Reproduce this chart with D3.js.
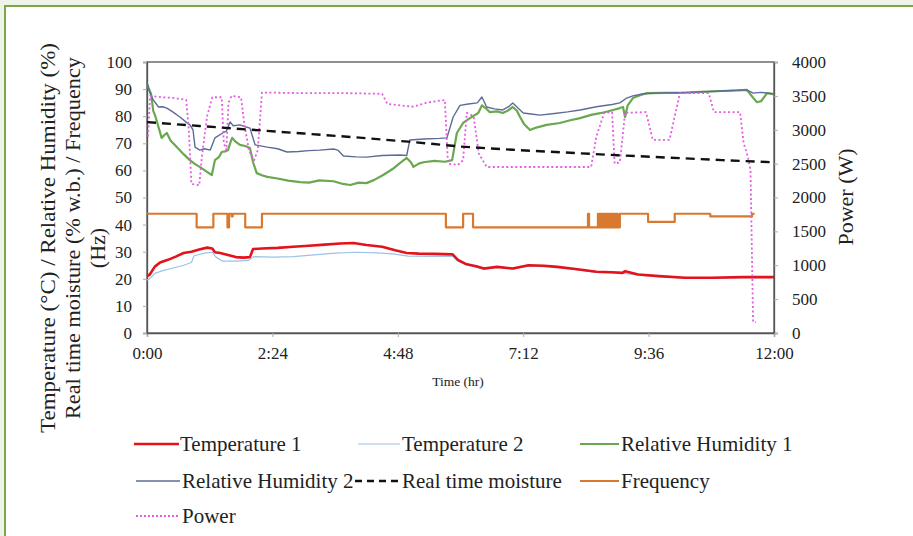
<!DOCTYPE html>
<html><head><meta charset="utf-8">
<script src="https://cdn.jsdelivr.net/npm/d3@7"></script>
<style>body{margin:0;background:#eef4e8;overflow:hidden}</style>
</head><body><svg id="c" width="913" height="536"></svg>
<script>
// ---- data (time in hours, value) ----
const xTickValues = [0, 2.4, 4.8, 7.2, 9.6, 12];
const xTickLabels = ["0:00", "2:24", "4:48", "7:12", "9:36", "12:00"];
const leftTicks = [0,10,20,30,40,50,60,70,80,90,100];
const rightTicks = [0,500,1000,1500,2000,2500,3000,3500,4000];

const temperature1 = [[0,21],[0.05,21.5],[0.15,24.5],[0.25,26],[0.4,27],[0.55,28.2],[0.7,29.5],[0.85,30],[1.0,30.8],[1.15,31.5],[1.25,31.2],[1.3,29.8],[1.4,29.5],[1.55,28.8],[1.7,28],[1.85,27.8],[1.97,28],[2.03,31],[2.2,31.2],[2.5,31.4],[2.8,31.8],[3.1,32.2],[3.4,32.6],[3.7,33],[3.95,33.2],[4.2,32.5],[4.5,31.8],[4.75,30.5],[4.97,29.5],[5.2,29.3],[5.5,29.2],[5.85,29],[5.95,27],[6.1,25.5],[6.3,24.6],[6.45,23.8],[6.7,24.4],[7.0,23.8],[7.3,25],[7.6,24.8],[7.85,24.4],[8.2,23.6],[8.6,22.6],[8.9,22.4],[9.1,22.2],[9.15,22.8],[9.4,21.6],[9.8,21],[10.3,20.4],[10.8,20.4],[11.4,20.6],[12,20.6]];
const temperature2 = [[0,19.5],[0.05,20],[0.15,22],[0.3,23],[0.5,24],[0.7,25],[0.85,26],[0.9,28.5],[1.1,29.5],[1.25,29.8],[1.32,28],[1.45,26.5],[1.7,26.5],[1.95,26.8],[2.05,28.2],[2.4,28],[2.8,28.2],[3.2,28.8],[3.6,29.5],[4.0,29.8],[4.4,29.6],[4.7,29.2],[5.0,28.4],[5.4,28.3],[5.85,28.3],[5.95,26.5],[6.1,25.2],[6.3,24.3],[6.45,23.5],[6.7,24.2],[7.0,23.6],[7.3,24.7],[7.6,24.5],[7.85,24.2],[8.2,23.4],[8.6,22.4],[8.9,22.2],[9.1,22],[9.4,21.4],[9.8,20.8],[10.3,20.2],[10.8,20.3],[11.4,20.4],[12,20.5]];
const relHumidity1 = [[0,92],[0.04,90],[0.08,88],[0.12,82],[0.16,80],[0.22,76],[0.28,72],[0.33,73],[0.38,73.8],[0.45,71],[0.57,68.6],[0.7,66],[0.82,63.8],[0.92,62.3],[1.01,61.3],[1.12,59.8],[1.24,58.3],[1.3,63.8],[1.38,65],[1.43,66.8],[1.5,67],[1.55,67.5],[1.6,70.5],[1.63,72],[1.7,70.5],[1.78,69.4],[1.88,69],[1.97,68.3],[2.03,63],[2.1,59],[2.2,58.2],[2.3,57.6],[2.5,57],[2.7,56.2],[2.93,55.7],[3.1,55.5],[3.3,56.3],[3.57,56],[3.75,55],[3.89,54.6],[4.05,55.5],[4.2,55.3],[4.35,56.5],[4.52,58.3],[4.7,60.5],[4.84,62.7],[4.97,64.6],[5.05,63],[5.1,61.3],[5.2,62.5],[5.29,63],[5.5,63.5],[5.7,63.2],[5.84,63.8],[5.93,73.8],[6.05,77.5],[6.18,79.3],[6.34,81.2],[6.41,84],[6.48,83],[6.56,81.5],[6.7,81.8],[6.81,81.2],[6.9,82],[7.0,83.4],[7.08,82],[7.14,79.7],[7.22,77],[7.33,74.9],[7.45,75.8],[7.65,76.8],[7.9,77.5],[8.1,78.5],[8.29,79.3],[8.5,80.5],[8.7,81.2],[8.92,82.3],[9.05,83],[9.11,83.4],[9.15,79.7],[9.2,84],[9.3,86.7],[9.45,87.8],[9.57,88.5],[9.9,88.6],[10.2,88.6],[10.6,89],[11.0,89.3],[11.3,89.5],[11.48,89.7],[11.55,88],[11.67,85.2],[11.75,85.5],[11.87,88.5],[12,88]];
const relHumidity2 = [[0,92.6],[0.03,90],[0.06,88.5],[0.12,86],[0.22,83.4],[0.3,83.5],[0.38,83],[0.5,81.5],[0.63,79.7],[0.75,77.8],[0.82,76.8],[0.88,75],[0.92,68.6],[1.01,67.5],[1.1,68],[1.21,67.5],[1.3,72],[1.45,73.8],[1.52,74.5],[1.59,77.9],[1.65,76.5],[1.78,76.8],[1.9,76],[1.97,75.6],[2.07,69.4],[2.3,68.6],[2.5,68],[2.68,66.8],[2.9,67],[3.1,67.3],[3.3,67.5],[3.57,67.9],[3.65,67.5],[3.76,65.3],[4.0,65],[4.2,64.9],[4.5,65.5],[4.84,65.7],[4.97,65.5],[5.03,71.2],[5.3,71.6],[5.6,71.8],[5.74,72],[5.86,79.7],[5.99,84],[6.15,84.5],[6.32,84.9],[6.41,87.1],[6.5,83.4],[6.65,82.7],[6.81,82.3],[6.92,83.5],[7.0,84.9],[7.1,83],[7.2,81.2],[7.35,80.8],[7.52,80.4],[7.8,81],[8.05,81.6],[8.29,82.3],[8.6,83.5],[8.9,84.3],[9.05,84.9],[9.18,86.7],[9.3,87.5],[9.5,88.3],[9.9,88.6],[10.4,88.8],[11.0,89.3],[11.48,89.7],[11.6,88.5],[11.75,88.8],[12,88.3]];
const moisture = [[0,77.8],[1,76.4],[2,75],[3,73.6],[4,72.2],[5,70.6],[6,68.8],[7,67.6],[8,66.6],[9,65.6],[10,64.7],[11,63.8],[12,63]];
const frequency = [[0,44],[0.95,39],[1.27,44],[1.54,39],[1.57,44],[1.62,43],[1.64,44],[1.88,39],[2.2,44],[5.72,39],[6.05,44],[6.24,39],[8.44,44],[8.46,39],[8.63,44],[8.65,39],[8.67,44],[8.69,39],[8.71,44],[8.73,39],[8.75,44],[8.77,39],[8.79,44],[8.81,39],[8.83,44],[8.85,39],[8.87,44],[8.89,39],[8.91,44],[8.93,39],[8.95,44],[8.97,39],[8.99,44],[9.01,39],[9.05,44],[9.59,41],[10.1,44],[10.78,43],[11.58,44],[11.63,44]];
const power = [[0.02,2900],[0.06,3500],[0.3,3480],[0.5,3470],[0.75,3440],[0.8,3000],[0.85,2200],[1.0,2180],[1.05,2600],[1.15,3200],[1.25,3480],[1.43,3480],[1.47,2800],[1.52,2700],[1.56,3400],[1.62,3500],[1.8,3480],[1.86,3100],[1.95,2700],[2.05,2550],[2.12,2700],[2.2,3550],[3.0,3540],[3.8,3540],[4.5,3530],[4.6,3380],[5.1,3340],[5.35,3400],[5.7,3440],[5.76,2500],[5.95,2480],[6.05,2550],[6.12,3250],[6.25,3200],[6.35,2650],[6.5,2450],[7.5,2450],[8.5,2450],[8.6,2900],[8.75,3250],[8.9,3260],[8.95,2500],[9.05,2520],[9.15,3250],[9.55,3260],[9.68,2850],[10.0,2850],[10.1,3200],[10.2,3540],[10.75,3540],[10.85,3260],[11.35,3260],[11.42,2800],[11.5,2600],[11.55,2400],[11.6,160],[11.65,160]];

// ---- layout ----
const svg = d3.select("#c");
const FONT = "'Liberation Serif','Times New Roman',serif";
svg.append("rect").attr("x",5).attr("y",6).attr("width",930).attr("height",560)
  .attr("fill","#fff").attr("stroke","#7aa64c").attr("stroke-width",2);

const x = d3.scaleLinear().domain([0,12]).range([147,774]);
const yL = d3.scaleLinear().domain([0,100]).range([333,62]);
const yR = d3.scaleLinear().domain([0,4000]).range([333,62]);

// frame
svg.append("rect").attr("x",147).attr("y",62).attr("width",627).attr("height",271)
  .attr("fill","none").attr("stroke","#555").attr("stroke-width",1.3);

function styleAxis(g){
  g.select(".domain").attr("stroke","#555").attr("stroke-width",1.3);
  g.selectAll(".tick line").attr("stroke","#aaa");
  g.selectAll("text").attr("font-family",FONT).attr("font-size",17).attr("fill","#222");
}
svg.append("g").attr("transform","translate(0,333)")
  .call(d3.axisBottom(x).tickValues(xTickValues).tickFormat((d,i)=>xTickLabels[i]).tickSize(4).tickPadding(10))
  .call(styleAxis);
svg.append("g").attr("transform","translate(147,0)")
  .call(d3.axisLeft(yL).tickValues(leftTicks).tickSize(4).tickPadding(11))
  .call(styleAxis);
svg.append("g").attr("transform","translate(774,0)")
  .call(d3.axisRight(yR).tickValues(rightTicks).tickFormat(d3.format("d")).tickSize(4).tickPadding(14))
  .call(styleAxis);

// axis titles
svg.append("text").attr("x",458).attr("y",386).attr("text-anchor","middle")
  .attr("font-family",FONT).attr("font-size",13.5).attr("fill","#222").text("Time (hr)");
const lt = svg.append("text").attr("transform","translate(0,238) rotate(-90)")
  .attr("text-anchor","middle").attr("font-family",FONT).attr("font-size",22).attr("fill","#222");
lt.append("tspan").attr("x",0).attr("y",55).attr("textLength",390).attr("lengthAdjust","spacingAndGlyphs")
  .text("Temperature (°C) / Relative Humidity (%)");
lt.append("tspan").attr("x",0).attr("y",80).attr("textLength",362).attr("lengthAdjust","spacingAndGlyphs")
  .text("Real time moisture (% w.b.) / Frequency");
lt.append("tspan").attr("x",-10).attr("y",105).text("(Hz)");
svg.append("text").attr("transform","translate(845,197) rotate(-90)").attr("dy","0.35em")
  .attr("text-anchor","middle").attr("font-family",FONT).attr("font-size",22).attr("fill","#222").text("Power (W)");

// series
const lineL = d3.line().x(d=>x(d[0])).y(d=>yL(d[1]));
const stepL = d3.line().x(d=>x(d[0])).y(d=>yL(d[1])).curve(d3.curveStepAfter);
const lineR = d3.line().x(d=>x(d[0])).y(d=>yR(d[1]));

const series = [
  {name:"Temperature 2", data:temperature2, gen:lineL, color:"#9cc2e6", w:1.2, dash:null},
  {name:"Temperature 1", data:temperature1, gen:lineL, color:"#e3121b", w:2.6, dash:null},
  {name:"Relative Humidity 1", data:relHumidity1, gen:lineL, color:"#6aa84f", w:2.2, dash:null},
  {name:"Relative Humidity 2", data:relHumidity2, gen:lineL, color:"#5b6d96", w:1.4, dash:null},
  {name:"Frequency", data:frequency, gen:stepL, color:"#d9782f", w:2.2, dash:null},
  {name:"Power", data:power, gen:lineR, color:"#e45be4", w:1.8, dash:"2,2.5"},
  {name:"Real time moisture", data:moisture, gen:lineL, color:"#111", w:2.4, dash:"9,6"}
];
series.forEach(s=>{
  svg.append("path").datum(s.data).attr("d",s.gen).attr("fill","none")
    .attr("stroke",s.color).attr("stroke-width",s.w).attr("stroke-dasharray",s.dash)
    .attr("stroke-linejoin","round");
});

// legend
const legend = [
  {name:"Temperature 1", color:"#e3121b", w:2.6, dash:null, x1:134, x2:179, tx:180, y:444},
  {name:"Temperature 2", color:"#9cc2e6", w:1.2, dash:null, x1:358, x2:400, tx:402, y:444},
  {name:"Relative Humidity 1", color:"#6aa84f", w:2.2, dash:null, x1:580, x2:619, tx:621, y:444},
  {name:"Relative Humidity 2", color:"#5b6d96", w:1.4, dash:null, x1:136, x2:180, tx:182, y:481},
  {name:"Real time moisture", color:"#111", w:2.4, dash:"7,5", x1:355, x2:400, tx:402, y:481},
  {name:"Frequency", color:"#d9782f", w:2.2, dash:null, x1:580, x2:619, tx:621, y:481},
  {name:"Power", color:"#e45be4", w:1.8, dash:"2,2", x1:136, x2:180, tx:182, y:516}
];
legend.forEach(l=>{
  svg.append("line").attr("x1",l.x1).attr("x2",l.x2).attr("y1",l.y).attr("y2",l.y)
    .attr("stroke",l.color).attr("stroke-width",l.w).attr("stroke-dasharray",l.dash);
  svg.append("text").attr("x",l.tx).attr("y",l.y).attr("dy","0.35em")
    .attr("font-family",FONT).attr("font-size",21).attr("fill","#222").text(l.name);
});
</script></body></html>
